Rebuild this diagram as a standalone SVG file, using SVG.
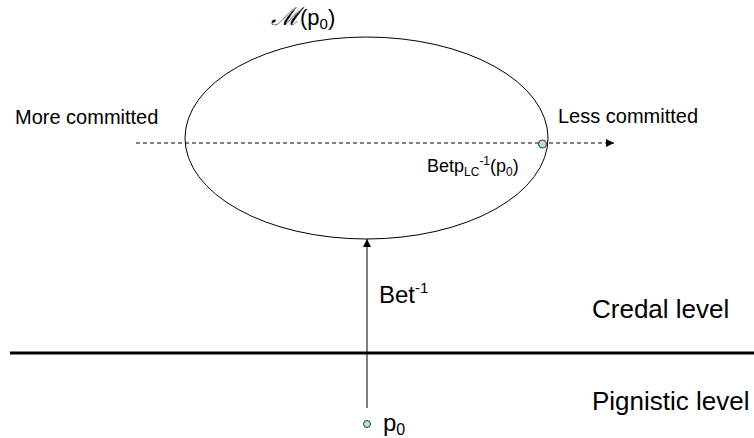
<svg xmlns="http://www.w3.org/2000/svg" width="754" height="438" viewBox="0 0 754 438">
<style>
text{font-family:"Liberation Sans",Arial,sans-serif;fill:#000}
.lvl{font-size:26px}
.big{font-size:24px}
.med{font-size:20px}
.sm{font-size:18px}
.ln{stroke:#000;fill:none}
.dot{fill:#b3dde0;stroke:#333;stroke-width:1}
</style>
<defs>
<marker id="ah" viewBox="0 0 10 10" refX="10" refY="5" markerWidth="10" markerHeight="8" markerUnits="userSpaceOnUse" orient="auto">
<path d="M0,0 L10,5 L0,10 z" fill="#000"/>
</marker>
</defs>
<rect width="754" height="438" fill="#fff"/>
<g id="connectors">
<line class="ln" x1="136" y1="143" x2="614" y2="143" stroke-dasharray="4,3" marker-end="url(#ah)"/>
<line class="ln" x1="367" y1="408" x2="367" y2="239" marker-end="url(#ah)"/>
<line class="ln" x1="10" y1="353" x2="754" y2="353" stroke-width="3"/>
</g>
<g id="set">
<ellipse class="ln" cx="366.5" cy="138" rx="181.5" ry="101"/>
<text x="271" y="25" font-size="22"><tspan font-family="DejaVu Serif,serif" font-style="italic" font-size="25">ℳ</tspan>(p<tspan font-size="15" dy="4">0</tspan><tspan dy="-4">)</tspan></text>
</g>
<g id="betp">
<circle class="dot" cx="542.5" cy="144" r="4"/>
<text x="427" y="172" class="sm">Betp<tspan font-size="12" dy="4">LC</tspan><tspan font-size="12" dy="-11">-1</tspan><tspan dy="7">(p</tspan><tspan font-size="12" dy="4">0</tspan><tspan dy="-4">)</tspan></text>
</g>
<g id="p0">
<circle class="dot" cx="367" cy="424" r="3.5"/>
<text x="383" y="431" class="big">p<tspan font-size="16" dy="4">0</tspan></text>
</g>
<g id="labels">
<text x="15" y="124" class="med">More committed</text>
<text x="558" y="123" class="med">Less committed</text>
<text x="379" y="303" class="big">Bet<tspan font-size="15" dy="-10">-1</tspan></text>
<text x="592" y="318" class="lvl">Credal level</text>
<text x="592" y="410" class="lvl">Pignistic level</text>
</g>
</svg>
